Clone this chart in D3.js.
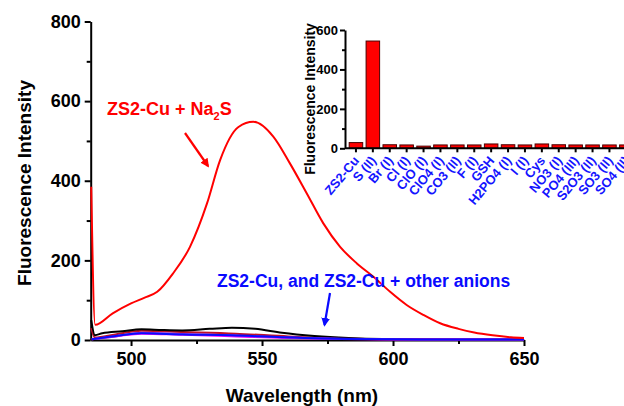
<!DOCTYPE html>
<html>
<head>
<meta charset="utf-8">
<script src="https://cdn.jsdelivr.net/npm/d3@7"></script>
<style>
body{margin:0;background:#fff;}
text{font-family:"Liberation Sans",Arial,sans-serif;font-weight:bold;}
</style>
</head>
<body>
<div id="canvas"></div>
<script>
// spectra, [wavelength nm, intensity]
var redNa2S = [[484.8,385],[486.3,38],[493,67],[500,92],[505,106],[510,121],[516,167],[522.5,234],[529,343],[534,452],[541,535],[546.7,548],[554.3,511],[560.7,443],[567.1,368],[573.4,293],[579.8,234],[586.1,193],[592.5,159],[598.9,121],[605.2,88],[611.6,63],[618,42],[625,28],[631,19],[638,12],[645,7],[650,5]];
var blackSpec = [[484.8,50],[486.2,12],[489,17],[496.6,22],[504,27],[512,25],[519.5,24],[530,28],[538.5,31],[547.4,28],[557.6,18],[570,10],[583,5],[596,2.5],[620,1.5],[650,1]];
var lowRed = [[484.8,30],[486.2,6],[494,14],[504,23],[520,20],[540,16],[560,9],[580,4],[600,2],[650,1]];
var magentaSpec = [[485,2],[494,9],[504,16],[520,13],[540,9],[560,5],[580,2.5],[600,1.5],[650,1]];
var purpleSpec = [[485,2],[494,9],[504,18],[520,15],[540,11],[560,6],[580,3],[610,1.5],[650,1]];
var blueSpec = [[485,2],[494,10],[504,17],[519.5,14],[538.5,12],[557.6,7],[583,2.5],[610,1.5],[650,1]];

var xTicks = [500,550,600,650], xMinor = [525,575,625];
var yTicks = [0,200,400,600,800], yMinor = [100,300,500,700];

// inset bar chart
var anions = ["ZS2-Cu","S (II)","Br (I)","Cl (I)","ClO (I)","ClO4 (I)","CO3 (II)","F (I)","GSH","H2PO4 (I)","I (I)","Cys","NO3 (I)","PO4 (III)","S2O3 (II)","SO3 (II)","SO4 (II)"];
var intensities = [29,544,18,17,11,17,17,17,22,18,17,22,18,17,17,17,17];
var insetTicks = [0,200,400,600], insetMinor = [100,300,500];

var W = 624, H = 406;
var svg = d3.select('#canvas').append('svg').attr('width',W).attr('height',H);

var x = d3.scaleLinear().domain([484.6,650]).range([90.7,524]);
var y = d3.scaleLinear().domain([0,800]).range([340,21.5]);

function styleAxis(g, fs){
  g.select('.domain').attr('stroke','#000').attr('stroke-width',2);
  g.selectAll('.tick line').attr('stroke','#000').attr('stroke-width',2);
  g.selectAll('.tick text').attr('font-size',fs).attr('fill','#000')
    .style('font-family','"Liberation Sans",Arial,sans-serif').style('font-weight','bold');
}

// main axes
var gx = svg.append('g').attr('transform','translate(0,340)')
  .call(d3.axisBottom(x).tickValues(xTicks).tickSize(6).tickSizeOuter(0).tickPadding(6));
styleAxis(gx, 18);
var gxm = svg.append('g').attr('transform','translate(0,340)')
  .call(d3.axisBottom(x).tickValues(xMinor).tickSize(4).tickFormat(''));
gxm.select('.domain').remove();
styleAxis(gxm, 18);

var gy = svg.append('g').attr('transform','translate(90.7,0)')
  .call(d3.axisLeft(y).tickValues(yTicks).tickSize(6).tickSizeOuter(0).tickPadding(4));
styleAxis(gy, 18);
var gym = svg.append('g').attr('transform','translate(90.7,0)')
  .call(d3.axisLeft(y).tickValues(yMinor).tickSize(4).tickFormat(''));
gym.select('.domain').remove();
styleAxis(gym, 18);

svg.append('text').attr('x',302).attr('y',402).attr('text-anchor','middle')
  .attr('font-size',19).text('Wavelength (nm)');
svg.append('text').attr('transform','translate(31,183) rotate(-90)').attr('text-anchor','middle')
  .attr('font-size',19).text('Fluorescence Intensity');

// spectra
var line = d3.line().x(function(d){return x(d[0]);}).y(function(d){return y(d[1]);}).curve(d3.curveMonotoneX);
var series = [
  {data: lowRed, color:'#c0102a'},
  {data: blackSpec, color:'#000000'},
  {data: magentaSpec, color:'#ff00ff'},
  {data: purpleSpec, color:'#8a2be2'},
  {data: blueSpec, color:'#0a0aff'},
  {data: redNa2S, color:'#ff0000'}
];
svg.selectAll('path.spec').data(series).enter().append('path')
  .attr('class','spec')
  .attr('d',function(d){return line(d.data);})
  .attr('fill','none')
  .attr('stroke',function(d){return d.color;})
  .attr('stroke-width',2);

// annotations
var defs = svg.append('defs');
[['arrRed','#ff0000'],['arrBlue','#0a0aff']].forEach(function(a){
  defs.append('marker').attr('id',a[0]).attr('viewBox','0 0 10 10').attr('refX',8).attr('refY',5)
    .attr('markerWidth',4).attr('markerHeight',4).attr('orient','auto')
    .append('path').attr('d','M0,0L10,5L0,10z').attr('fill',a[1]);
});
var lab = svg.append('text').attr('x',107).attr('y',115).attr('font-size',18).attr('fill','#ff0000');
lab.append('tspan').text('ZS2-Cu + Na');
lab.append('tspan').attr('font-size',11).attr('dy',5).text('2');
lab.append('tspan').attr('dy',-5).text('S');
svg.append('line').attr('x1',185).attr('y1',133).attr('x2',208).attr('y2',166)
  .attr('stroke','#ff0000').attr('stroke-width',2.2).attr('marker-end','url(#arrRed)');

svg.append('text').attr('x',217).attr('y',287).attr('font-size',17.5).attr('fill','#0a0aff')
  .text('ZS2-Cu, and ZS2-Cu + other anions');
svg.append('line').attr('x1',330).attr('y1',293).attr('x2',324.5).attr('y2',325)
  .attr('stroke','#0a0aff').attr('stroke-width',2.2).attr('marker-end','url(#arrBlue)');

// inset
var insetLeft = 345;
var ix = d3.scaleBand().domain(anions).range([347.5,634.8]).paddingInner(0.2).paddingOuter(0.1);
var iy = d3.scaleLinear().domain([0,600]).range([148.3,30]);

svg.selectAll('rect.bar').data(anions).enter().append('rect')
  .attr('class','bar')
  .attr('x',function(d){return ix(d);})
  .attr('y',function(d,i){return iy(intensities[i]);})
  .attr('width',ix.bandwidth())
  .attr('height',function(d,i){return iy(0)-iy(intensities[i]);})
  .attr('fill','#ff0000').attr('stroke','#4a0000').attr('stroke-width',1);

var igx = svg.append('g').attr('transform','translate(0,'+iy(0)+')')
  .call(d3.axisBottom(ix).tickSize(4).tickSizeOuter(0).tickFormat(''));
igx.select('.domain').remove();
styleAxis(igx, 12);
svg.append('line').attr('x1',insetLeft).attr('x2',W+10).attr('y1',iy(0)).attr('y2',iy(0))
  .attr('stroke','#000').attr('stroke-width',2);

svg.selectAll('text.anion').data(anions).enter().append('text')
  .attr('class','anion')
  .attr('transform',function(d){return 'translate('+(ix(d)+ix.bandwidth()/2+4)+',161) rotate(-50)';})
  .attr('text-anchor','end').attr('font-size',13).attr('fill','#1414ff')
  .text(function(d){return d;});

var igy = svg.append('g').attr('transform','translate('+insetLeft+',0)')
  .call(d3.axisLeft(iy).tickValues(insetTicks).tickSize(5).tickSizeOuter(0).tickPadding(2));
styleAxis(igy, 13);
var igym = svg.append('g').attr('transform','translate('+insetLeft+',0)')
  .call(d3.axisLeft(iy).tickValues(insetMinor).tickSize(3).tickFormat(''));
igym.select('.domain').remove();
styleAxis(igym, 13);

svg.append('text').attr('transform','translate(315,99) rotate(-90)').attr('text-anchor','middle')
  .attr('font-size',14).text('Fluorescence Intensity');
</script>
</body>
</html>
